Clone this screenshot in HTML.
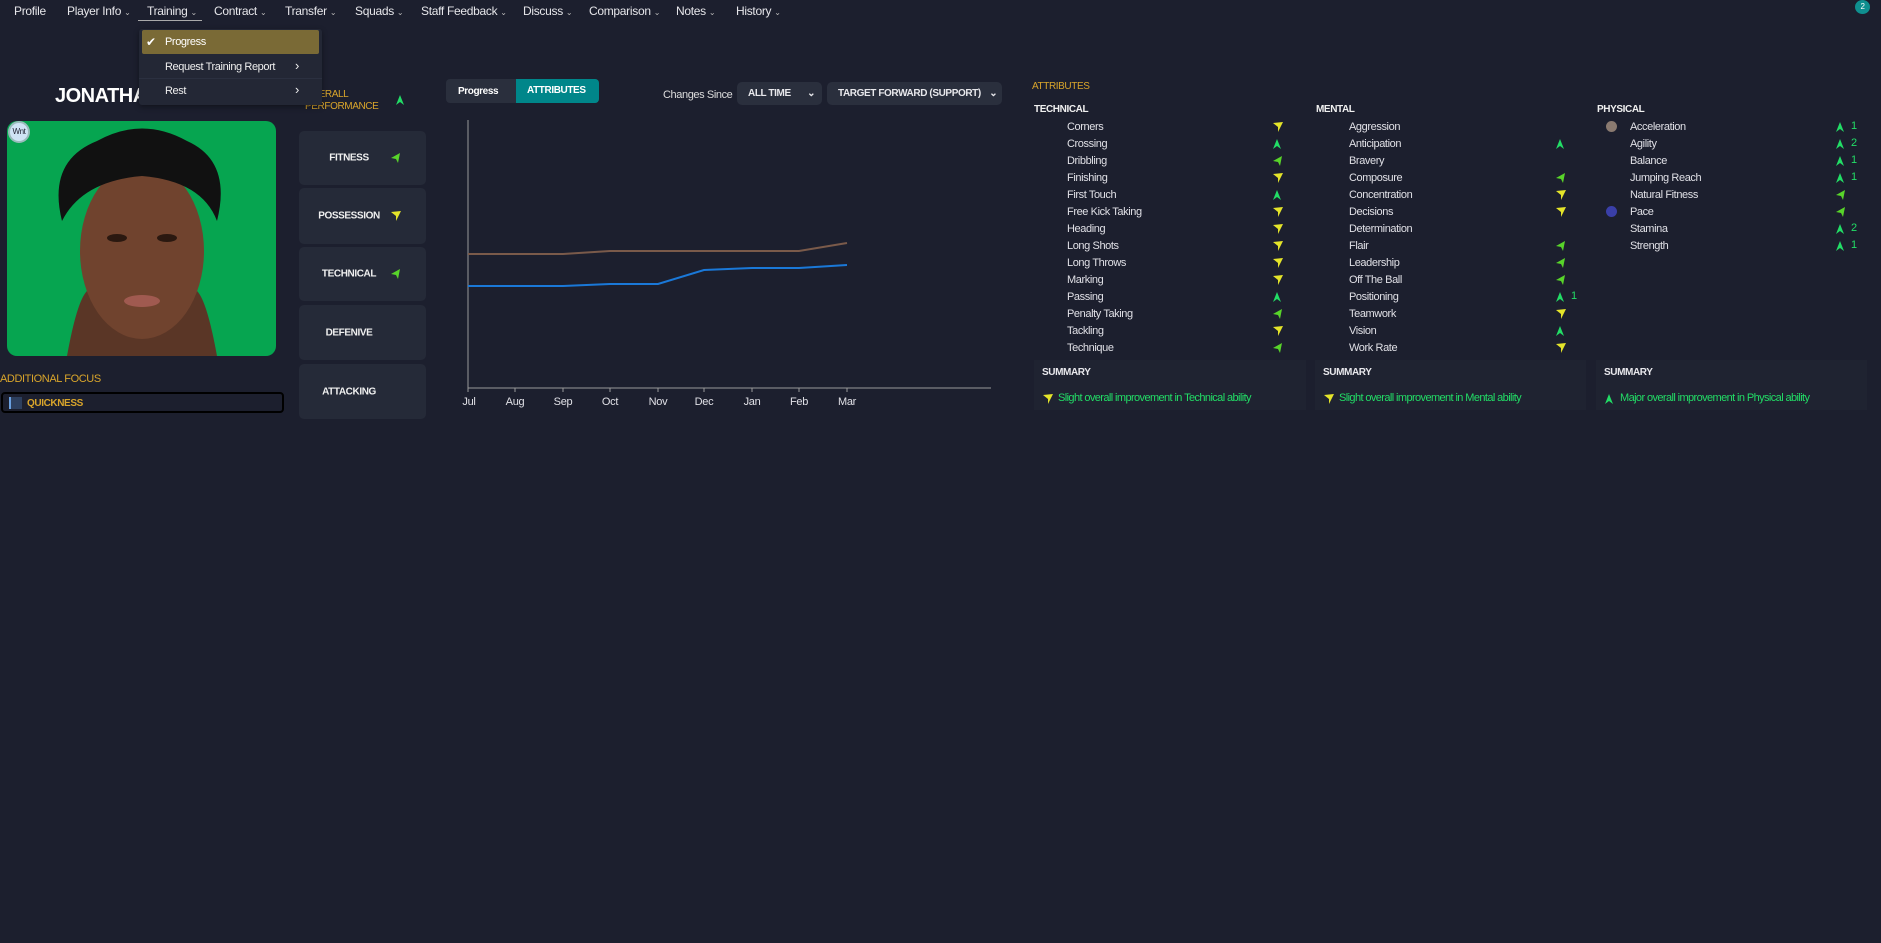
<!DOCTYPE html>
<html><head><meta charset="utf-8"><style>
*{margin:0;padding:0;box-sizing:border-box}
body{width:1881px;height:943px;background:#1c1f2e;font-family:"Liberation Sans Narrow","Liberation Sans",sans-serif;color:#e8e8ec;position:relative;overflow:hidden;font-size:11px;letter-spacing:-0.4px}
.a{position:absolute;white-space:nowrap}
.nav{top:4px;font-size:12px;color:#e6e6ea;letter-spacing:-0.3px}
.car{font-size:8px;color:#bbb;margin-left:3px}
.btn{position:absolute;left:299px;width:127px;background:#252a38;border-radius:5px;font-weight:bold;font-size:10px;color:#f0f0f0}
.btn span{position:absolute;left:0;width:100px;text-align:center;top:50%;transform:translateY(-50%)}
.btn svg{position:absolute;left:92px;top:50%;transform:translateY(-50%)}
.row{position:absolute;font-size:11px;color:#e0e0e6}
.hd{font-size:10px;font-weight:bold;color:#f0f0f0}
.sum{position:absolute;top:360px;height:50px;background:#1f2331}
.sum b{position:absolute;left:8px;top:7px;font-size:10px}
.sum i{position:absolute;left:8px;top:32px;font-style:normal;color:#22dd66;font-size:11px;letter-spacing:-0.6px}
.gold{color:#d9a52b}
</style></head><body>
<svg width="0" height="0" style="position:absolute"><defs>
<g id="U"><polygon points="4,0 8,10 4,7 0,10" fill="#22dd66"/></g>
<g id="Y"><polygon points="0,1 10,0 5,10 5,5" fill="#e4e42a"/></g>
<g id="L"><polygon points="9,0 7,10 5,6 0,5" fill="#58d42a"/></g>
</defs></svg>

<div class="a nav" style="left:14px">Profile</div>
<div class="a nav" style="left:67px">Player Info<span class="car">⌄</span></div>
<div class="a nav" style="left:147px">Training<span class="car">⌄</span></div>
<div class="a" style="left:138px;top:20px;width:64px;height:1px;background:#aaa"></div>
<div class="a nav" style="left:214px">Contract<span class="car">⌄</span></div>
<div class="a nav" style="left:285px">Transfer<span class="car">⌄</span></div>
<div class="a nav" style="left:355px">Squads<span class="car">⌄</span></div>
<div class="a nav" style="left:421px">Staff Feedback<span class="car">⌄</span></div>
<div class="a nav" style="left:523px">Discuss<span class="car">⌄</span></div>
<div class="a nav" style="left:589px">Comparison<span class="car">⌄</span></div>
<div class="a nav" style="left:676px">Notes<span class="car">⌄</span></div>
<div class="a nav" style="left:736px">History<span class="car">⌄</span></div>
<div class="a" style="left:1855px;top:0;width:15px;height:14px;border-radius:50%;background:#0f8f8f;color:#fff;font-size:8px;text-align:center;line-height:14px">2</div>

<div class="a" style="left:55px;top:85px;font-size:20px;font-weight:bold;color:#fff;letter-spacing:-0.5px">JONATHAN</div>
<div class="a" style="left:305px;top:89px;font-size:10px;line-height:12px;color:#d9a52b">OVERALL<br>PERFORMANCE</div>
<svg class="a" style="left:396px;top:95px" width="8" height="10"><use href="#U"/></svg>

<div class="a" style="left:7px;top:121px;width:269px;height:235px;border-radius:10px;background:#06a550;overflow:hidden">
<svg width="269" height="235">
<path d="M60 235 Q70 180 80 170 L190 170 Q200 180 210 235Z" fill="#5a3626"/>
<ellipse cx="135" cy="130" rx="62" ry="88" fill="#70432e"/>
<path d="M55 100 Q40 40 90 20 Q135 -5 180 20 Q225 40 210 100 Q195 60 135 55 Q75 60 55 100Z" fill="#111"/>
<ellipse cx="110" cy="117" rx="10" ry="4" fill="#2a1810"/>
<ellipse cx="160" cy="117" rx="10" ry="4" fill="#2a1810"/>
<ellipse cx="135" cy="180" rx="18" ry="6" fill="#a05a50"/>
</svg></div>
<div class="a" style="left:8px;top:121px;width:22px;height:22px;border-radius:50%;background:#cfe3f5;border:2px solid #9bb;color:#223;font-size:8px;text-align:center;line-height:18px">Wnt</div>

<div class="a gold" style="left:0;top:373px;font-size:11px">ADDITIONAL FOCUS</div>
<div class="a" style="left:1px;top:392px;width:283px;height:21px;border:2px solid #000;border-radius:4px;background:#1c1f2e"></div>
<div class="a" style="left:9px;top:397px;width:13px;height:12px;background:#2d3f5e;border-left:2px solid #6aa0e0"></div>
<div class="a gold" style="left:27px;top:398px;font-size:10px;font-weight:bold">QUICKNESS</div>

<div class="btn" style="top:131px;height:54px"><span>FITNESS</span><svg width="10" height="10"><use href="#L"/></svg></div>
<div class="btn" style="top:188px;height:56px"><span>POSSESSION</span><svg width="10" height="10"><use href="#Y"/></svg></div>
<div class="btn" style="top:247px;height:54px"><span>TECHNICAL</span><svg width="10" height="10"><use href="#L"/></svg></div>
<div class="btn" style="top:305px;height:55px"><span>DEFENIVE</span></div>
<div class="btn" style="top:364px;height:55px"><span>ATTACKING</span></div>

<div class="a" style="left:139px;top:29px;width:183px;height:76px;background:#232735;border-radius:3px;box-shadow:0 2px 6px #0006"></div>
<div class="a" style="left:142px;top:30px;width:177px;height:24px;background:#7a6a36;border-radius:2px"></div>
<div class="a" style="left:146px;top:35px;font-size:12px;color:#fff">✔</div>
<div class="a" style="left:165px;top:36px;font-size:11px;color:#fff">Progress</div>
<div class="a" style="left:165px;top:61px;font-size:11px;color:#eee">Request Training Report</div>
<div class="a" style="left:295px;top:58px;font-size:13px;color:#eee">›</div>
<div class="a" style="left:165px;top:85px;font-size:11px;color:#eee">Rest</div>
<div class="a" style="left:295px;top:82px;font-size:13px;color:#eee">›</div>
<div class="a" style="left:139px;top:78px;width:183px;height:1px;background:#2b3040"></div>

<div class="a" style="left:446px;top:79px;width:153px;height:24px;background:#2a2f3d;border-radius:4px"></div>
<div class="a" style="left:516px;top:79px;width:83px;height:24px;background:#00868a;border-radius:0 4px 4px 0"></div>
<div class="a" style="left:458px;top:86px;font-weight:bold;font-size:10px;color:#fff">Progress</div>
<div class="a" style="left:527px;top:85px;font-weight:bold;font-size:10px;color:#fff">ATTRIBUTES</div>
<div class="a" style="left:663px;top:89px;font-size:11px;color:#ddd">Changes Since</div>
<div class="a" style="left:737px;top:82px;width:85px;height:23px;background:#2a2f3d;border-radius:5px;font-size:10px;font-weight:bold;padding:6px 0 0 11px">ALL TIME <span style="margin-left:14px">⌄</span></div>
<div class="a" style="left:827px;top:82px;width:175px;height:23px;background:#2a2f3d;border-radius:5px;font-size:10px;font-weight:bold;padding:6px 0 0 11px">TARGET FORWARD (SUPPORT) <span style="margin-left:6px">⌄</span></div>

<svg class="a" style="left:0;top:0" width="1000" height="420">
<line x1="468" y1="120" x2="468" y2="388" stroke="#999" stroke-width="1"/>
<line x1="468" y1="388" x2="991" y2="388" stroke="#999" stroke-width="1"/>
<g stroke="#999"><line x1="468" y1="388" x2="468" y2="392"/><line x1="515" y1="388" x2="515" y2="392"/><line x1="563" y1="388" x2="563" y2="392"/><line x1="610" y1="388" x2="610" y2="392"/><line x1="658" y1="388" x2="658" y2="392"/><line x1="704" y1="388" x2="704" y2="392"/><line x1="752" y1="388" x2="752" y2="392"/><line x1="799" y1="388" x2="799" y2="392"/><line x1="847" y1="388" x2="847" y2="392"/></g>
<polyline fill="none" stroke="#7a5a4a" stroke-width="2" points="468,254 515,254 563,254 610,251 658,251 704,251 752,251 799,251 847,243"/>
<polyline fill="none" stroke="#1a78d8" stroke-width="2" points="468,286 515,286 563,286 610,284 658,284 704,270 752,268 799,268 847,265"/>
<g font-family="Liberation Sans,sans-serif" font-size="11" letter-spacing="-0.3" fill="#e0e0e6" text-anchor="middle">
<text x="469" y="405">Jul</text><text x="515" y="405">Aug</text><text x="563" y="405">Sep</text><text x="610" y="405">Oct</text><text x="658" y="405">Nov</text><text x="704" y="405">Dec</text><text x="752" y="405">Jan</text><text x="799" y="405">Feb</text><text x="847" y="405">Mar</text></g>
</svg>

<div class="a gold" style="left:1032px;top:81px;font-size:10px">ATTRIBUTES</div>
<div class="a hd" style="left:1034px;top:104px">TECHNICAL</div>
<div class="a hd" style="left:1316px;top:104px">MENTAL</div>
<div class="a hd" style="left:1597px;top:104px">PHYSICAL</div>

<div id="rows"></div>
<script>
var T=[["Corners","Y"],["Crossing","U"],["Dribbling","L"],["Finishing","Y"],["First Touch","U"],["Free Kick Taking","Y"],["Heading","Y"],["Long Shots","Y"],["Long Throws","Y"],["Marking","Y"],["Passing","U"],["Penalty Taking","L"],["Tackling","Y"],["Technique","L"]];
var M=[["Aggression",""],["Anticipation","U"],["Bravery",""],["Composure","L"],["Concentration","Y"],["Decisions","Y"],["Determination",""],["Flair","L"],["Leadership","L"],["Off The Ball","L"],["Positioning","U","1"],["Teamwork","Y"],["Vision","U"],["Work Rate","Y"]];
var P=[["Acceleration","U","1","#8a7a70"],["Agility","U","2"],["Balance","U","1"],["Jumping Reach","U","1"],["Natural Fitness","L"],["Pace","L","","#3a3fa8"],["Stamina","U","2"],["Strength","U","1"]];
var h="";
function col(list,nx,ax,dx){list.forEach(function(r,i){var y=121+i*17;
h+='<div class="row" style="left:'+nx+'px;top:'+y+'px">'+r[0]+'</div>';
if(r[1])h+='<svg class="a" style="left:'+ax+'px;top:'+(y+1)+'px" width="10" height="10"><use href="#'+r[1]+'"/></svg>';
if(r[2])h+='<div class="row" style="left:'+(ax+15)+'px;top:'+(y-1)+'px;color:#22dd66">'+r[2]+'</div>';
if(r[3])h+='<div class="a" style="left:'+dx+'px;top:'+(y)+'px;width:11px;height:11px;border-radius:50%;background:'+r[3]+'"></div>';});}
col(T,1067,1273,0);col(M,1349,1556,0);col(P,1630,1836,1606);
document.getElementById("rows").innerHTML=h;
</script>

<div class="sum" style="left:1034px;width:272px"><b>SUMMARY</b><svg class="a" style="left:9px;top:34px" width="10" height="10"><use href="#Y"/></svg><i style="left:24px">Slight overall improvement in Technical ability</i></div>
<div class="sum" style="left:1315px;width:271px"><b>SUMMARY</b><svg class="a" style="left:9px;top:34px" width="10" height="10"><use href="#Y"/></svg><i style="left:24px">Slight overall improvement in Mental ability</i></div>
<div class="sum" style="left:1596px;width:271px"><b>SUMMARY</b><svg class="a" style="left:9px;top:34px" width="10" height="10"><use href="#U"/></svg><i style="left:24px">Major overall improvement in Physical ability</i></div>
</body></html>
